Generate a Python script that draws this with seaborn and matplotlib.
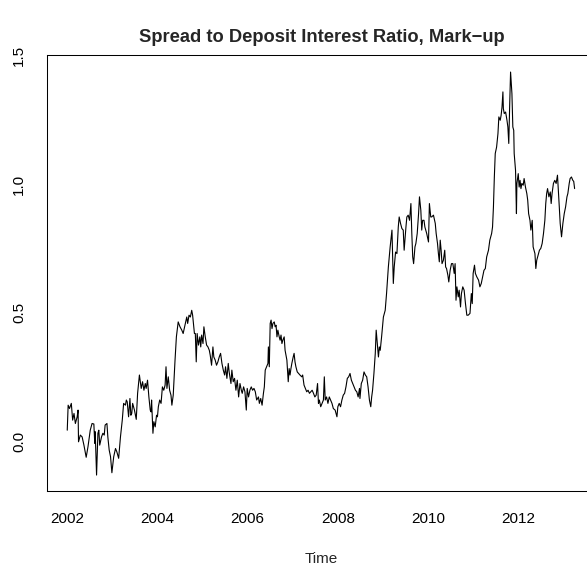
import matplotlib
matplotlib.use("Agg")
import matplotlib.pyplot as plt
import seaborn as sns
import pandas as pd

# Weekly spread-to-deposit interest ratio (mark-up)
years = [
    2002.00, 2002.02, 2002.05, 2002.09, 2002.12, 2002.15, 2002.18, 2002.22, 2002.24, 2002.25,
    2002.29, 2002.33, 2002.37, 2002.42, 2002.46, 2002.51, 2002.55, 2002.59, 2002.61, 2002.62,
    2002.65, 2002.68, 2002.70, 2002.72, 2002.76, 2002.79, 2002.82, 2002.84, 2002.88, 2002.90,
    2002.93, 2002.96, 2002.99, 2003.03, 2003.07, 2003.10, 2003.14, 2003.18, 2003.22, 2003.25,
    2003.29, 2003.31, 2003.33, 2003.36, 2003.39, 2003.41, 2003.43, 2003.45, 2003.49, 2003.53,
    2003.56, 2003.60, 2003.64, 2003.67, 2003.70, 2003.73, 2003.75, 2003.78, 2003.81, 2003.84,
    2003.86, 2003.87, 2003.90, 2003.92, 2003.95, 2003.98, 2004.00, 2004.02, 2004.05, 2004.08,
    2004.11, 2004.14, 2004.17, 2004.19, 2004.21, 2004.24, 2004.27, 2004.30, 2004.32, 2004.35,
    2004.39, 2004.42, 2004.46, 2004.50, 2004.54, 2004.57, 2004.61, 2004.65, 2004.67, 2004.70,
    2004.73, 2004.76, 2004.78, 2004.82, 2004.84, 2004.86, 2004.88, 2004.91, 2004.94, 2004.96,
    2004.98, 2005.01, 2005.03, 2005.06, 2005.09, 2005.12, 2005.15, 2005.17, 2005.20, 2005.23,
    2005.25, 2005.28, 2005.31, 2005.34, 2005.37, 2005.40, 2005.43, 2005.46, 2005.49, 2005.51,
    2005.54, 2005.57, 2005.59, 2005.63, 2005.65, 2005.68, 2005.71, 2005.74, 2005.77, 2005.80,
    2005.83, 2005.86, 2005.88, 2005.91, 2005.94, 2005.97, 2005.99, 2006.02, 2006.05, 2006.08,
    2006.11, 2006.14, 2006.17, 2006.20, 2006.24, 2006.26, 2006.29, 2006.32, 2006.35, 2006.37,
    2006.39, 2006.42, 2006.45, 2006.46, 2006.48, 2006.50, 2006.52, 2006.54, 2006.56, 2006.59,
    2006.61, 2006.63, 2006.65, 2006.67, 2006.70, 2006.72, 2006.74, 2006.76, 2006.78, 2006.81,
    2006.83, 2006.85, 2006.87, 2006.90, 2006.92, 2006.94, 2006.96, 2006.98, 2007.01, 2007.03,
    2007.05, 2007.07, 2007.10, 2007.13, 2007.16, 2007.20, 2007.22, 2007.25, 2007.28, 2007.31,
    2007.34, 2007.37, 2007.40, 2007.43, 2007.46, 2007.49, 2007.52, 2007.55, 2007.57, 2007.59,
    2007.62, 2007.65, 2007.68, 2007.70, 2007.72, 2007.75, 2007.78, 2007.81, 2007.84, 2007.87,
    2007.90, 2007.94, 2007.98, 2008.00, 2008.03, 2008.06, 2008.09, 2008.12, 2008.15, 2008.18,
    2008.21, 2008.24, 2008.27, 2008.30, 2008.33, 2008.36, 2008.39, 2008.42, 2008.45, 2008.48,
    2008.49, 2008.52, 2008.55, 2008.58, 2008.61, 2008.64, 2008.67, 2008.70, 2008.73, 2008.75,
    2008.77, 2008.80, 2008.83, 2008.85, 2008.88, 2008.90, 2008.92, 2008.94, 2008.97, 2009.01,
    2009.05, 2009.08, 2009.12, 2009.16, 2009.20, 2009.23, 2009.25, 2009.28, 2009.31, 2009.34,
    2009.36, 2009.39, 2009.42, 2009.45, 2009.47, 2009.51, 2009.53, 2009.56, 2009.59, 2009.62,
    2009.64, 2009.66, 2009.68, 2009.71, 2009.73, 2009.76, 2009.79, 2009.81, 2009.84, 2009.86,
    2009.88, 2009.91, 2009.93, 2009.97, 2010.01, 2010.03, 2010.06, 2010.08, 2010.12, 2010.16,
    2010.18, 2010.21, 2010.23, 2010.25, 2010.27, 2010.29, 2010.31, 2010.34, 2010.37, 2010.39,
    2010.41, 2010.44, 2010.46, 2010.49, 2010.52, 2010.55, 2010.58, 2010.60, 2010.62, 2010.64,
    2010.67, 2010.69, 2010.72, 2010.74, 2010.77, 2010.80, 2010.83, 2010.86, 2010.89, 2010.93,
    2010.96, 2010.98, 2011.00, 2011.03, 2011.05, 2011.08, 2011.12, 2011.15, 2011.18, 2011.21,
    2011.24, 2011.27, 2011.30, 2011.34, 2011.37, 2011.41, 2011.43, 2011.45, 2011.47, 2011.49,
    2011.52, 2011.55, 2011.57, 2011.60, 2011.62, 2011.64, 2011.66, 2011.67, 2011.69, 2011.72,
    2011.75, 2011.77, 2011.79, 2011.81, 2011.83, 2011.86, 2011.88, 2011.90, 2011.91, 2011.94,
    2011.96, 2011.97, 2012.00, 2012.02, 2012.04, 2012.06, 2012.08, 2012.11, 2012.13, 2012.16,
    2012.19, 2012.21, 2012.23, 2012.26, 2012.28, 2012.31, 2012.33, 2012.37, 2012.39, 2012.41,
    2012.44, 2012.47, 2012.50, 2012.53, 2012.56, 2012.59, 2012.61, 2012.63, 2012.65, 2012.68,
    2012.71, 2012.73, 2012.75, 2012.78, 2012.81, 2012.84, 2012.87, 2012.89, 2012.91, 2012.93,
    2012.96, 2012.99, 2013.02, 2013.05, 2013.08, 2013.10, 2013.13, 2013.15, 2013.18, 2013.21,
    2013.23, 2013.25,
]

markup = [
    0.045, 0.142, 0.129, 0.149, 0.084, 0.110, 0.071, 0.097, 0.123, 0.000,
    0.026, 0.019, -0.013, -0.060, -0.019, 0.045, 0.071, 0.069, -0.006, 0.039,
    -0.129, 0.033, 0.045, -0.013, 0.019, 0.033, 0.026, 0.065, 0.071, 0.019,
    -0.032, -0.058, -0.120, -0.058, -0.026, -0.039, -0.064, 0.019, 0.084, 0.149,
    0.142, 0.162, 0.155, 0.097, 0.168, 0.103, 0.110, 0.149, 0.123, 0.087,
    0.188, 0.259, 0.207, 0.233, 0.200, 0.226, 0.207, 0.239, 0.174, 0.123,
    0.116, 0.162, 0.033, 0.078, 0.058, 0.103, 0.097, 0.136, 0.162, 0.149,
    0.213, 0.200, 0.220, 0.291, 0.207, 0.252, 0.200, 0.181, 0.142, 0.181,
    0.317, 0.407, 0.465, 0.446, 0.433, 0.420, 0.452, 0.484, 0.459, 0.491,
    0.484, 0.510, 0.491, 0.420, 0.420, 0.310, 0.420, 0.375, 0.407, 0.368,
    0.414, 0.381, 0.446, 0.407, 0.375, 0.368, 0.355, 0.336, 0.297, 0.368,
    0.329, 0.317, 0.297, 0.310, 0.329, 0.343, 0.304, 0.278, 0.259, 0.291,
    0.246, 0.304, 0.271, 0.226, 0.278, 0.233, 0.246, 0.200, 0.239, 0.174,
    0.226, 0.200, 0.188, 0.213, 0.194, 0.123, 0.207, 0.174, 0.200, 0.213,
    0.200, 0.207, 0.194, 0.162, 0.174, 0.149, 0.168, 0.142, 0.188, 0.213,
    0.278, 0.291, 0.304, 0.368, 0.291, 0.459, 0.472, 0.439, 0.459, 0.465,
    0.446, 0.452, 0.407, 0.433, 0.407, 0.394, 0.414, 0.381, 0.394, 0.407,
    0.355, 0.336, 0.317, 0.233, 0.284, 0.259, 0.284, 0.304, 0.329, 0.343,
    0.310, 0.291, 0.271, 0.265, 0.259, 0.252, 0.259, 0.220, 0.207, 0.194,
    0.200, 0.188, 0.194, 0.200, 0.188, 0.174, 0.181, 0.226, 0.149, 0.162,
    0.136, 0.149, 0.162, 0.252, 0.162, 0.174, 0.149, 0.174, 0.162, 0.149,
    0.129, 0.123, 0.097, 0.136, 0.149, 0.136, 0.162, 0.181, 0.188, 0.213,
    0.246, 0.252, 0.265, 0.239, 0.226, 0.213, 0.200, 0.194, 0.174, 0.207,
    0.168, 0.226, 0.239, 0.271, 0.259, 0.252, 0.213, 0.162, 0.136, 0.174,
    0.200, 0.265, 0.343, 0.433, 0.368, 0.329, 0.368, 0.355, 0.407, 0.484,
    0.510, 0.575, 0.678, 0.756, 0.821, 0.614, 0.678, 0.736, 0.730, 0.833,
    0.872, 0.847, 0.827, 0.821, 0.743, 0.833, 0.872, 0.879, 0.859, 0.924,
    0.808, 0.717, 0.691, 0.756, 0.769, 0.808, 0.885, 0.950, 0.898, 0.821,
    0.859, 0.859, 0.833, 0.808, 0.775, 0.924, 0.872, 0.872, 0.879, 0.847,
    0.808, 0.769, 0.730, 0.698, 0.782, 0.743, 0.691, 0.704, 0.743, 0.678,
    0.672, 0.646, 0.620, 0.665, 0.691, 0.691, 0.653, 0.691, 0.549, 0.601,
    0.562, 0.588, 0.523, 0.575, 0.601, 0.588, 0.536, 0.491, 0.491, 0.498,
    0.575, 0.536, 0.653, 0.685, 0.653, 0.640, 0.627, 0.601, 0.614, 0.640,
    0.665, 0.672, 0.717, 0.743, 0.782, 0.808, 0.833, 0.911, 1.027, 1.118,
    1.143, 1.195, 1.260, 1.247, 1.266, 1.298, 1.357, 1.292, 1.273, 1.279,
    1.247, 1.221, 1.157, 1.305, 1.434, 1.350, 1.221, 1.208, 1.118, 1.053,
    0.885, 1.002, 1.040, 0.988, 1.014, 0.982, 1.002, 0.995, 1.021, 0.988,
    0.963, 0.937, 0.885, 0.859, 0.821, 0.859, 0.756, 0.730, 0.672, 0.704,
    0.724, 0.743, 0.750, 0.769, 0.808, 0.859, 0.924, 0.963, 0.982, 0.950,
    0.969, 0.924, 0.963, 1.002, 1.014, 1.002, 1.034, 0.976, 0.911, 0.847,
    0.795, 0.847, 0.885, 0.911, 0.950, 0.963, 1.002, 1.021, 1.027, 1.014,
    1.010, 0.982,
]

x_ticks = [2002, 2004, 2006, 2008, 2010, 2012]
y_ticks = [0.0, 0.5, 1.0, 1.5]
y_tick_labels = ["0.0", "0.5", "1.0", "1.5"]

title = "Spread to Deposit Interest Ratio, Mark\u2212up"
x_label = "Time"

sns.set_style("white")
plt.rcParams["font.family"] = ["Liberation Sans", "DejaVu Sans"]

df = pd.DataFrame({"Time": years, "markup": markup})

fig = plt.figure(figsize=(5.87, 5.75), dpi=100)
# plot region runs past the right edge of the canvas
ax = fig.add_axes([0.0796, 0.146, 0.9358, 0.7583])

sns.lineplot(data=df, x="Time", y="markup", ax=ax, color="black",
             linewidth=0.8, estimator=None, sort=False)

ax.set_xlim(2001.545, 2013.725)
ax.set_ylim(-0.191, 1.499)

ax.set_xticks(x_ticks)
ax.set_xticklabels([str(t) for t in x_ticks])
ax.set_yticks(y_ticks)
ax.set_yticklabels(y_tick_labels, rotation=90, va="center")

ax.tick_params(axis="both", direction="out", length=7, width=0.75,
               color="black", labelsize=11, labelcolor="black")
ax.tick_params(axis="x", pad=8)
ax.tick_params(axis="y", pad=8)

ax.set_xlabel("")
ax.set_ylabel("")
for side in ["left", "right", "top", "bottom"]:
    ax.spines[side].set_visible(True)
    ax.spines[side].set_color("black")
    ax.spines[side].set_linewidth(0.75)

fig.text(0.5475, 0.934, title, ha="center", va="center",
         fontsize=13.2, fontweight="bold")
fig.text(0.5475, 0.028, x_label, ha="center", va="center", fontsize=11)

fig.savefig("out.png", dpi=100, facecolor="white")
